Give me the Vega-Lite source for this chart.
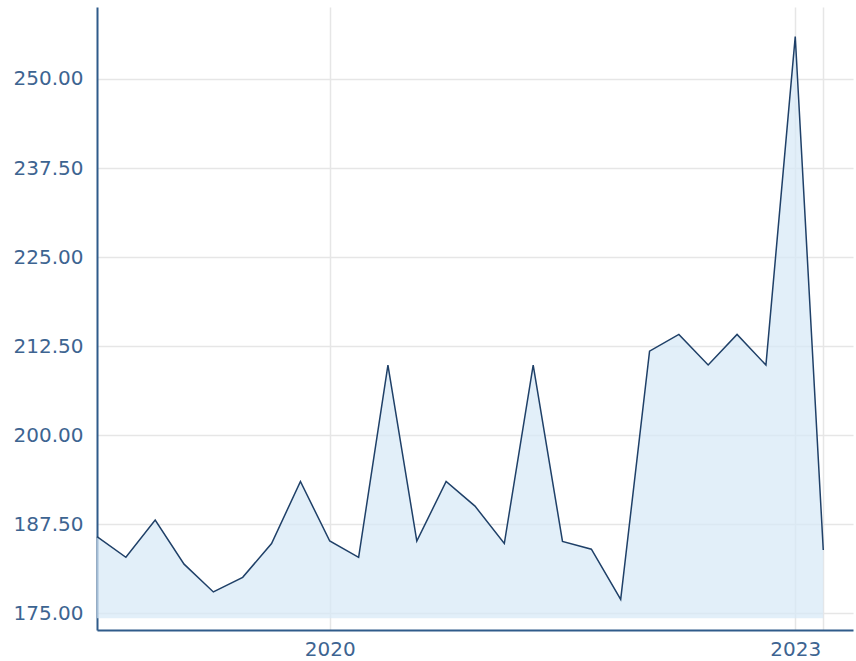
{
  "$schema": "https://vega.github.io/schema/vega-lite/v6.json",
  "autosize": "none",
  "width": 756,
  "height": 623,
  "padding": {"left": 97, "top": 7, "right": 3, "bottom": 31},
  "background": "white",
  "config": {
    "view": {"stroke": null},
    "font": "DejaVu Sans"
  },
  "data": {
    "values": [
      {"date": "2018-07-02", "value": 185.75},
      {"date": "2018-09-08", "value": 182.86},
      {"date": "2018-11-16", "value": 188.1},
      {"date": "2019-01-23", "value": 181.9},
      {"date": "2019-04-02", "value": 178.0},
      {"date": "2019-06-10", "value": 180.05},
      {"date": "2019-08-17", "value": 184.8},
      {"date": "2019-10-24", "value": 193.5},
      {"date": "2020-01-01", "value": 185.15},
      {"date": "2020-03-09", "value": 182.85},
      {"date": "2020-05-17", "value": 209.85},
      {"date": "2020-07-24", "value": 185.15},
      {"date": "2020-10-01", "value": 193.5},
      {"date": "2020-12-08", "value": 190.05},
      {"date": "2021-02-15", "value": 184.8},
      {"date": "2021-04-24", "value": 209.85},
      {"date": "2021-07-02", "value": 185.1},
      {"date": "2021-09-08", "value": 184.0},
      {"date": "2021-11-16", "value": 176.95},
      {"date": "2022-01-23", "value": 211.8},
      {"date": "2022-04-02", "value": 214.15},
      {"date": "2022-06-10", "value": 209.85},
      {"date": "2022-08-17", "value": 214.15},
      {"date": "2022-10-24", "value": 209.85},
      {"date": "2023-01-01", "value": 255.95},
      {"date": "2023-03-08", "value": 183.9}
    ]
  },
  "encoding": {
    "x": {
      "field": "date",
      "type": "temporal",
      "scale": {
        "type": "utc",
        "domain": [
          {"year": 2018, "month": 7, "date": 2, "utc": true},
          {"year": 2023, "month": 5, "date": 17, "utc": true}
        ]
      },
      "axis": {
        "title": null,
        "values": [
          {"year": 2020, "month": 1, "date": 1, "utc": true},
          {"year": 2023, "month": 1, "date": 1, "utc": true},
          {"year": 2023, "month": 3, "date": 8, "utc": true}
        ],
        "labelExpr": "utcmonth(datum.value) == 0 ? utcFormat(datum.value, '%Y') : ''",
        "ticks": false,
        "labelPadding": 9,
        "labelFontSize": 20,
        "labelColor": "#3d6491",
        "labelFont": "DejaVu Sans",
        "domainColor": "#2f5b8a",
        "domainWidth": 2,
        "grid": true,
        "gridColor": "#e6e6e6",
        "gridWidth": 1.5,
        "labelFlush": false,
        "labelOverlap": false
      }
    },
    "y": {
      "field": "value",
      "type": "quantitative",
      "scale": {"domain": [172.66, 260.1], "nice": false, "zero": false},
      "axis": {
        "title": null,
        "values": [175, 187.5, 200, 212.5, 225, 237.5, 250],
        "format": ".2f",
        "ticks": false,
        "labelPadding": 14,
        "labelFontSize": 20,
        "labelColor": "#3d6491",
        "labelFont": "DejaVu Sans",
        "domainColor": "#2f5b8a",
        "domainWidth": 2,
        "grid": true,
        "gridColor": "#e6e6e6",
        "gridWidth": 1.5
      }
    }
  },
  "layer": [
    {
      "mark": {"type": "area", "color": "#d6e8f7", "opacity": 0.7},
      "encoding": {"y2": {"datum": 174.3}}
    },
    {
      "mark": {"type": "line", "color": "#1f4068", "strokeWidth": 1.5}
    }
  ]
}
